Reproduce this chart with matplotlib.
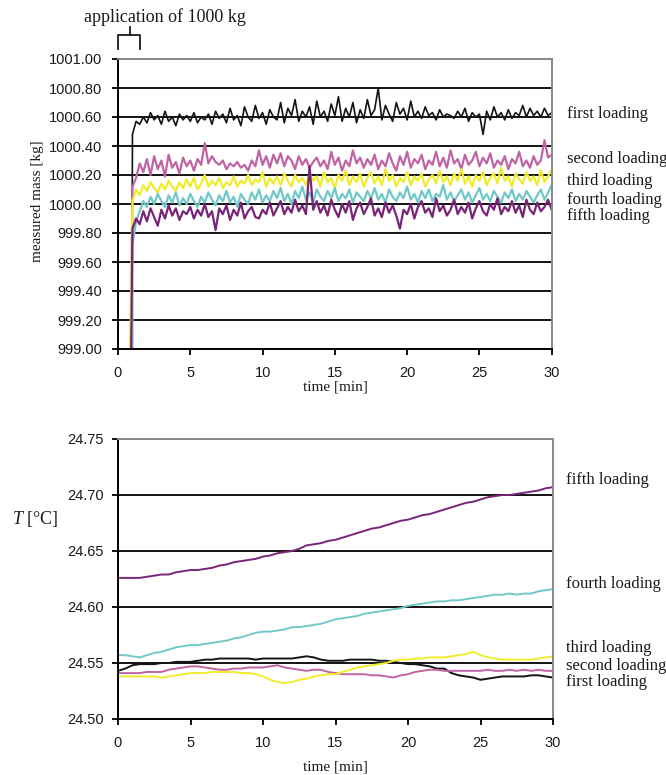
import numpy as np
import matplotlib
matplotlib.use("Agg")
import matplotlib.pyplot as plt

plt.rcParams['font.family'] = ['Liberation Sans', 'DejaVu Sans']
plt.rcParams['mathtext.fontset'] = 'custom'
plt.rcParams['mathtext.it'] = 'Liberation Serif:italic'
plt.rcParams['mathtext.rm'] = 'Liberation Serif'

SERIF = ['Liberation Serif', 'DejaVu Serif']

# ---- top panel: measured mass [kg], sampled every 0.25 min from 1.0 to 30.0
mass_time = np.arange(1.0, 30.01, 0.25)

# time at which each loading starts (line rises from below the axis)
start_time = {'first': 0.95, 'second': 0.88, 'third': 0.83, 'fourth': 1.0, 'fifth': 0.9}
start_mass = 998.9

mass_first = [
    1000.48, 1000.57, 1000.55, 1000.60, 1000.56, 1000.63, 1000.58, 1000.61,
    1000.55, 1000.64, 1000.57, 1000.60, 1000.54, 1000.62, 1000.58, 1000.61,
    1000.57, 1000.63, 1000.56, 1000.60, 1000.58, 1000.62, 1000.55, 1000.64,
    1000.59, 1000.62, 1000.56, 1000.66, 1000.58, 1000.61, 1000.54, 1000.67,
    1000.60, 1000.57, 1000.68, 1000.59, 1000.63, 1000.55, 1000.65, 1000.60,
    1000.58, 1000.70, 1000.56, 1000.66, 1000.61, 1000.72, 1000.57, 1000.64,
    1000.60, 1000.67, 1000.55, 1000.71, 1000.60, 1000.64, 1000.57, 1000.69,
    1000.61, 1000.74, 1000.57, 1000.66, 1000.60, 1000.70, 1000.56, 1000.65,
    1000.59, 1000.72, 1000.61, 1000.65, 1000.80, 1000.58, 1000.68, 1000.62,
    1000.57, 1000.70, 1000.62, 1000.66, 1000.58, 1000.71, 1000.60, 1000.64,
    1000.59, 1000.67, 1000.61, 1000.63, 1000.58, 1000.65, 1000.60, 1000.62,
    1000.61, 1000.59, 1000.64, 1000.60, 1000.66, 1000.57, 1000.63, 1000.60,
    1000.62, 1000.48, 1000.64, 1000.58, 1000.67, 1000.60, 1000.63, 1000.58,
    1000.65, 1000.59, 1000.63, 1000.61, 1000.68, 1000.60, 1000.66, 1000.61,
    1000.64, 1000.60, 1000.66, 1000.61, 1000.63,
]
mass_second = [
    1000.12, 1000.18, 1000.28, 1000.22, 1000.31, 1000.20, 1000.33, 1000.24,
    1000.30, 1000.19, 1000.34, 1000.25, 1000.29, 1000.21, 1000.32, 1000.26,
    1000.30, 1000.23, 1000.31, 1000.27, 1000.42, 1000.28, 1000.33, 1000.29,
    1000.27, 1000.30, 1000.24, 1000.28, 1000.26, 1000.29, 1000.25, 1000.27,
    1000.23, 1000.30, 1000.26, 1000.37, 1000.27, 1000.33, 1000.25, 1000.34,
    1000.28, 1000.35, 1000.26, 1000.33, 1000.30, 1000.24, 1000.33, 1000.27,
    1000.31, 1000.25, 1000.29, 1000.32, 1000.26, 1000.30, 1000.24, 1000.36,
    1000.27, 1000.32, 1000.23, 1000.30, 1000.26, 1000.37, 1000.28, 1000.32,
    1000.25, 1000.31, 1000.27, 1000.34, 1000.24, 1000.30, 1000.26, 1000.35,
    1000.28, 1000.23, 1000.33, 1000.27, 1000.36, 1000.25, 1000.31, 1000.28,
    1000.34, 1000.24, 1000.30, 1000.27, 1000.36, 1000.26, 1000.32, 1000.25,
    1000.37, 1000.28, 1000.31, 1000.24, 1000.34, 1000.27, 1000.30, 1000.36,
    1000.26, 1000.32, 1000.28, 1000.35, 1000.25, 1000.30, 1000.27, 1000.33,
    1000.24, 1000.31, 1000.28, 1000.36, 1000.26, 1000.30, 1000.25, 1000.33,
    1000.27, 1000.30, 1000.44, 1000.32, 1000.34,
]
mass_third = [
    1000.02, 1000.10, 1000.06, 1000.13, 1000.09, 1000.15, 1000.11, 1000.08,
    1000.14, 1000.10, 1000.16, 1000.12, 1000.09, 1000.15, 1000.11, 1000.17,
    1000.12, 1000.18, 1000.10, 1000.14, 1000.20, 1000.12, 1000.16, 1000.13,
    1000.18, 1000.11, 1000.15, 1000.13, 1000.19, 1000.12, 1000.16, 1000.14,
    1000.20, 1000.13, 1000.17, 1000.15, 1000.22, 1000.12, 1000.18, 1000.14,
    1000.19, 1000.13, 1000.21, 1000.16, 1000.12, 1000.20, 1000.15, 1000.18,
    1000.13, 1000.21, 1000.16, 1000.19, 1000.12, 1000.22, 1000.15, 1000.18,
    1000.11, 1000.20, 1000.16, 1000.23, 1000.13, 1000.19, 1000.15, 1000.21,
    1000.12, 1000.18, 1000.22, 1000.14, 1000.19, 1000.13, 1000.24, 1000.16,
    1000.20, 1000.12, 1000.18, 1000.15, 1000.22, 1000.13, 1000.19, 1000.16,
    1000.21, 1000.12, 1000.17, 1000.20, 1000.14, 1000.23, 1000.15, 1000.19,
    1000.13, 1000.21, 1000.16, 1000.24, 1000.14, 1000.19, 1000.12, 1000.20,
    1000.16, 1000.22, 1000.13, 1000.18, 1000.21, 1000.14, 1000.25, 1000.16,
    1000.19, 1000.12, 1000.21, 1000.17, 1000.14, 1000.22, 1000.16, 1000.19,
    1000.13, 1000.23, 1000.15, 1000.19, 1000.24,
]
mass_fourth = [
    999.72, 999.88, 999.95, 1000.02, 999.98, 1000.05, 1000.00, 1000.07,
    1000.02, 999.98, 1000.06, 1000.01, 1000.08, 999.99, 1000.04, 1000.00,
    1000.07, 1000.02, 999.98, 1000.05, 1000.01, 1000.08, 1000.03, 999.99,
    1000.06, 1000.02, 1000.09, 1000.01, 1000.05, 999.98, 1000.07, 1000.03,
    1000.00, 1000.08, 1000.03, 1000.10, 1000.01, 1000.06, 1000.02, 1000.09,
    1000.04, 1000.11, 1000.02, 1000.07, 1000.00, 1000.09, 1000.04, 1000.12,
    1000.03, 1000.08, 1000.01, 1000.10, 1000.05, 1000.02, 1000.09, 1000.04,
    1000.11, 1000.02, 1000.07, 1000.04, 1000.10, 1000.01, 1000.08, 1000.05,
    1000.02, 1000.09, 1000.04, 1000.11, 1000.03, 1000.07, 1000.01, 1000.10,
    1000.05, 1000.02, 1000.08, 1000.04, 1000.12, 1000.03, 1000.07, 1000.01,
    1000.09, 1000.04, 1000.10, 1000.02, 1000.07, 1000.05, 1000.13, 1000.03,
    1000.08, 1000.02, 1000.06, 1000.10, 1000.03, 1000.08, 1000.01, 1000.06,
    1000.11, 1000.03, 1000.07, 1000.02, 1000.09, 1000.05, 1000.01, 1000.08,
    1000.04, 1000.10, 1000.02, 1000.07, 1000.03, 1000.09, 1000.05, 1000.01,
    1000.06, 1000.10, 1000.03, 1000.08, 1000.13,
]
mass_fifth = [
    999.83, 999.90, 999.86, 999.95, 999.88, 999.97, 999.91, 999.85,
    999.96, 999.90, 999.99, 999.92, 999.97, 999.89, 999.95, 999.93,
    999.98, 999.90, 999.96, 999.92, 1000.00, 999.91, 999.95, 999.82,
    999.97, 999.93, 999.99, 999.89, 999.96, 999.92, 1000.01, 999.90,
    999.95, 999.98, 999.91, 999.90, 999.96, 999.93, 1000.01, 999.92,
    999.97, 1000.02, 999.93, 999.98, 999.94, 1000.03, 999.95, 999.99,
    999.93, 1000.26, 999.96, 1000.02, 999.94, 999.99, 999.92, 1000.03,
    999.96, 999.91, 1000.00, 999.94, 1000.02, 999.89, 999.97, 1000.01,
    999.93, 999.98, 1000.04, 999.92, 999.97, 999.91, 1000.01, 999.94,
    999.99, 999.92, 999.83, 999.96, 999.93, 1000.00, 999.90, 999.98,
    1000.02, 999.94, 999.97, 999.91, 1000.04, 999.95, 999.99, 999.92,
    999.96, 1000.03, 999.93, 999.98, 999.94, 1000.01, 999.90, 999.97,
    1000.02, 999.95, 999.92, 1000.00, 999.96, 1000.04, 999.93, 999.98,
    999.95, 1000.02, 999.94, 999.99, 999.91, 1000.03, 999.96, 999.93,
    1000.01, 999.95, 999.98, 1000.03, 999.96,
]

# ---- bottom panel: temperature [degC], sampled every 0.5 min from 0 to 30
temp_time = np.arange(0.0, 30.01, 0.5)

temp_first = [
    24.543, 24.545, 24.548, 24.549, 24.549, 24.549, 24.550, 24.550, 24.551, 24.551,
    24.551, 24.552, 24.553, 24.553, 24.554, 24.554, 24.554, 24.554, 24.554, 24.553,
    24.554, 24.554, 24.554, 24.554, 24.554, 24.555, 24.556, 24.555, 24.553, 24.552,
    24.552, 24.552, 24.553, 24.553, 24.553, 24.553, 24.552, 24.552, 24.551, 24.550,
    24.549, 24.549, 24.548, 24.547, 24.545, 24.545, 24.541, 24.539, 24.538, 24.537,
    24.535, 24.536, 24.537, 24.538, 24.538, 24.538, 24.538, 24.539, 24.539, 24.538,
    24.537,
]
temp_second = [
    24.541, 24.541, 24.541, 24.541, 24.542, 24.542, 24.542, 24.544, 24.545, 24.546,
    24.547, 24.547, 24.546, 24.545, 24.544, 24.544, 24.545, 24.545, 24.546, 24.546,
    24.546, 24.547, 24.548, 24.546, 24.545, 24.544, 24.543, 24.544, 24.544, 24.542,
    24.541, 24.540, 24.540, 24.540, 24.540, 24.539, 24.539, 24.538, 24.537, 24.539,
    24.540, 24.542, 24.543, 24.544, 24.544, 24.543, 24.543, 24.543, 24.543, 24.543,
    24.543, 24.544, 24.543, 24.543, 24.544, 24.543, 24.544, 24.543, 24.544, 24.543,
    24.543,
]
temp_third = [
    24.538, 24.538, 24.538, 24.538, 24.538, 24.538, 24.537, 24.538, 24.539, 24.540,
    24.541, 24.541, 24.541, 24.542, 24.542, 24.542, 24.542, 24.541, 24.541, 24.540,
    24.538, 24.535, 24.533, 24.532, 24.533, 24.535, 24.536, 24.538, 24.539, 24.540,
    24.540, 24.542, 24.544, 24.546, 24.547, 24.548, 24.549, 24.550, 24.552, 24.553,
    24.553, 24.554, 24.554, 24.555, 24.555, 24.555, 24.556, 24.557, 24.558, 24.560,
    24.557, 24.555, 24.554, 24.553, 24.553, 24.553, 24.553, 24.553, 24.554, 24.555,
    24.556,
]
temp_fourth = [
    24.557, 24.557, 24.556, 24.555, 24.557, 24.559, 24.560, 24.562, 24.564, 24.565,
    24.566, 24.566, 24.567, 24.568, 24.569, 24.570, 24.572, 24.573, 24.575, 24.577,
    24.578, 24.578, 24.579, 24.580, 24.582, 24.582, 24.583, 24.584, 24.585, 24.587,
    24.589, 24.590, 24.591, 24.592, 24.594, 24.595, 24.596, 24.597, 24.598, 24.599,
    24.601, 24.602, 24.603, 24.604, 24.605, 24.605, 24.606, 24.606, 24.607, 24.608,
    24.609, 24.610, 24.611, 24.611, 24.612, 24.611, 24.612, 24.612, 24.614, 24.615,
    24.616,
]
temp_fifth = [
    24.626, 24.626, 24.626, 24.626, 24.627, 24.628, 24.629, 24.629, 24.631, 24.632,
    24.633, 24.633, 24.634, 24.635, 24.637, 24.638, 24.640, 24.641, 24.642, 24.643,
    24.645, 24.646, 24.648, 24.649, 24.650, 24.652, 24.655, 24.656, 24.657, 24.659,
    24.660, 24.662, 24.664, 24.666, 24.668, 24.670, 24.671, 24.673, 24.675, 24.677,
    24.678, 24.680, 24.682, 24.683, 24.685, 24.687, 24.689, 24.691, 24.693, 24.694,
    24.696, 24.698, 24.699, 24.700, 24.700, 24.701, 24.702, 24.703, 24.704, 24.706,
    24.707,
]

names = ['first', 'second', 'third', 'fourth', 'fifth']
colors = {'first': '#141414', 'second': '#C064A4', 'third': '#F0EC2C',
          'fourth': '#72C8C8', 'fifth': '#7A2478'}
mass_series = {'first': mass_first, 'second': mass_second, 'third': mass_third,
               'fourth': mass_fourth, 'fifth': mass_fifth}
temp_series = {'first': temp_first, 'second': temp_second, 'third': temp_third,
               'fourth': temp_fourth, 'fifth': temp_fifth}

mass_ticks = [999.0, 999.2, 999.4, 999.6, 999.8, 1000.0, 1000.2, 1000.4, 1000.6, 1000.8, 1001.0]
temp_ticks = [24.50, 24.55, 24.60, 24.65, 24.70, 24.75]
time_ticks = [0, 5, 10, 15, 20, 25, 30]

# label positions on the right (value where the text sits)
mass_label_y = {'first': 1000.62, 'second': 1000.31, 'third': 1000.16, 'fourth': 1000.03, 'fifth': 999.92}
temp_label_y = {'fifth': 24.7135, 'fourth': 24.6205, 'third': 24.563, 'second': 24.547, 'first': 24.533}

W, H = 666, 775
fig = plt.figure(figsize=(W / 100, H / 100), dpi=100)


def style_axes(ax):
    ax.set_facecolor('white')
    ax.set_axisbelow(True)
    ax.grid(axis='y', color='black', linewidth=1.3)
    ax.grid(axis='x', visible=False)
    for side in ['left', 'bottom']:
        ax.spines[side].set_color('black')
        ax.spines[side].set_linewidth(1.4)
    for side in ['top', 'right']:
        ax.spines[side].set_color('#858a8a')
        ax.spines[side].set_linewidth(1.4)
    ax.tick_params(axis='both', direction='out', length=4.3, width=1.3,
                   color='black', labelsize=10.5, labelcolor='#1a1a1a')
    ax.tick_params(axis='x', pad=8)
    ax.tick_params(axis='y', pad=6)
    ax.set_xlim(0, 30)
    ax.set_xticks(time_ticks)


# top panel
ax1 = fig.add_axes([118 / W, 1 - 349 / H, (551.7 - 118) / W, 290 / H])
style_axes(ax1)
for n in names:
    t = np.concatenate([[start_time[n]], mass_time])
    m = np.concatenate([[start_mass], mass_series[n]])
    lw = 1.2 if n == 'first' else 1.6
    ax1.plot(t, m, color=colors[n], linewidth=lw, clip_on=True)
ax1.set_ylim(999.0, 1001.0)
ax1.set_yticks(mass_ticks)
ax1.set_yticklabels([f'{v:.2f}' for v in mass_ticks])
ax1.tick_params(axis='y', pad=7)
for n in names:
    ax1.text(1.035, mass_label_y[n], f'{n} loading', transform=ax1.get_yaxis_transform(),
             family=SERIF, fontsize=12, va='center', ha='left', color='#1a1a1a')
fig.text(335 / W, 1 - 387 / H, 'time [min]', family=SERIF,
         fontsize=11, ha='center', va='center', color='#1a1a1a')
fig.text(37 / W, 1 - 201 / H, 'measured mass [kg]', rotation=90, family=SERIF,
         fontsize=11, ha='center', va='center', color='#1a1a1a')

# bracket marking the application of the load
tr = ax1.get_xaxis_transform()
ax1.plot([0, 0, 1.53, 1.53], [1.034, 1.083, 1.083, 1.034], color='#1a1a1a',
         linewidth=1.3, transform=tr, clip_on=False)
ax1.plot([0.83, 0.83], [1.083, 1.11], color='#1a1a1a', linewidth=1.3,
         transform=tr, clip_on=False)
fig.text(165 / W, 1 - 17 / H, 'application of 1000 kg', family=SERIF,
         fontsize=13, ha='center', va='center', color='#1a1a1a')

# bottom panel
ax2 = fig.add_axes([118 / W, 1 - 719 / H, (553 - 118) / W, 280 / H])
style_axes(ax2)
for n in names:
    ax2.plot(temp_time, temp_series[n], color=colors[n], linewidth=1.4)
ax2.set_ylim(24.50, 24.75)
ax2.set_yticks(temp_ticks)
ax2.set_yticklabels([f'{v:.2f}' for v in temp_ticks])
for n in names:
    ax2.text(1.03, temp_label_y[n], f'{n} loading', transform=ax2.get_yaxis_transform(),
             family=SERIF, fontsize=12, va='center', ha='left', color='#1a1a1a')
fig.text(335 / W, 1 - 767 / H, 'time [min]', family=SERIF, fontsize=11,
         ha='center', va='center', color='#1a1a1a')
fig.text(35 / W, 1 - 519 / H, '$T$ [°C]', family=SERIF, fontsize=13,
         ha='center', va='center', color='#1a1a1a')

fig.savefig('out.png', dpi=100, facecolor='white')
